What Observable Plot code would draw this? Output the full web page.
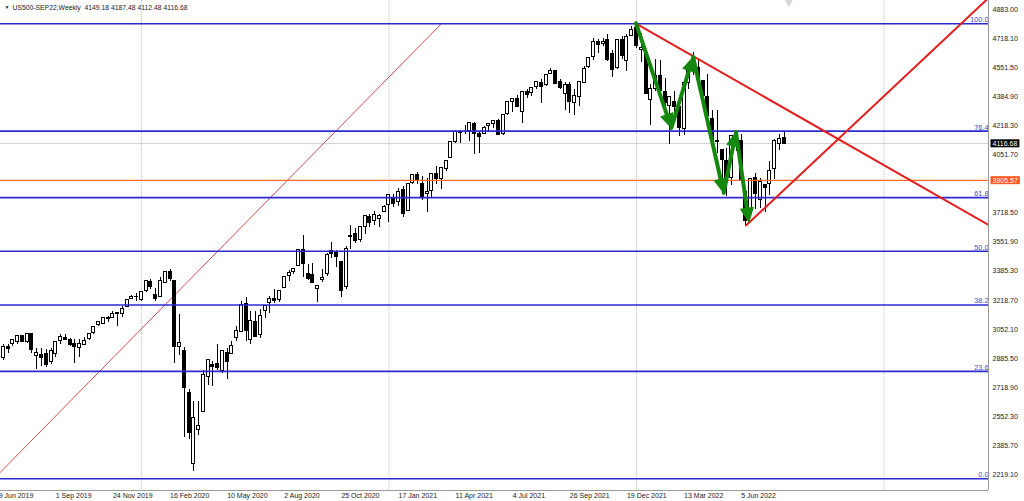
<!DOCTYPE html>
<html>
<head>
<meta charset="utf-8">
<script src="https://cdn.jsdelivr.net/npm/d3@7"></script>
<script src="https://cdn.jsdelivr.net/npm/@observablehq/plot@0.6"></script>
<style>
html, body { margin: 0; padding: 0; background: #fff; }
#chart svg { display: block; }
</style>
</head>
<body>
<div id="chart"></div>
<script>
// ---------- data ----------
const weeks = [
"2019-06-16","2019-06-23","2019-06-30","2019-07-07","2019-07-14","2019-07-21","2019-07-28","2019-08-04","2019-08-11","2019-08-18","2019-08-25","2019-09-01","2019-09-08","2019-09-15","2019-09-22","2019-09-29","2019-10-06","2019-10-13","2019-10-20","2019-10-27","2019-11-03","2019-11-10","2019-11-17","2019-11-24","2019-12-01","2019-12-08","2019-12-15","2019-12-22","2019-12-29",
"2020-01-05","2020-01-12","2020-01-19","2020-01-26","2020-02-02","2020-02-09","2020-02-16","2020-02-23","2020-03-01","2020-03-08","2020-03-15","2020-03-22","2020-03-29","2020-04-05","2020-04-12","2020-04-19","2020-04-26","2020-05-03","2020-05-10","2020-05-17","2020-05-24","2020-05-31","2020-06-07","2020-06-14","2020-06-21","2020-06-28","2020-07-05","2020-07-12","2020-07-19","2020-07-26","2020-08-02","2020-08-09","2020-08-16","2020-08-23","2020-08-30","2020-09-06","2020-09-13","2020-09-20","2020-09-27","2020-10-04","2020-10-11","2020-10-18","2020-10-25","2020-11-01","2020-11-08","2020-11-15","2020-11-22","2020-11-29","2020-12-06","2020-12-13","2020-12-20","2020-12-27",
"2021-01-03","2021-01-10","2021-01-17","2021-01-24","2021-01-31","2021-02-07","2021-02-14","2021-02-21","2021-02-28","2021-03-07","2021-03-14","2021-03-21","2021-03-28","2021-04-04","2021-04-11","2021-04-18","2021-04-25","2021-05-02","2021-05-09","2021-05-16","2021-05-23","2021-05-30","2021-06-06","2021-06-13","2021-06-20","2021-06-27","2021-07-04","2021-07-11","2021-07-18","2021-07-25","2021-08-01","2021-08-08","2021-08-15","2021-08-22","2021-08-29","2021-09-05","2021-09-12","2021-09-19","2021-09-26","2021-10-03","2021-10-10","2021-10-17","2021-10-24","2021-10-31","2021-11-07","2021-11-14","2021-11-21","2021-11-28","2021-12-05","2021-12-12","2021-12-19","2021-12-26",
"2022-01-02","2022-01-09","2022-01-16","2022-01-23","2022-01-30","2022-02-06","2022-02-13","2022-02-20","2022-02-27","2022-03-06","2022-03-13","2022-03-20","2022-03-27","2022-04-03","2022-04-10","2022-04-17","2022-04-24","2022-05-01","2022-05-08","2022-05-15","2022-05-22","2022-05-29","2022-06-05","2022-06-12","2022-06-19","2022-06-26","2022-07-03","2022-07-10","2022-07-17","2022-07-24","2022-07-31","2022-08-07"
];
const open = [
2886,2951,2971,2980,3017,2981,3024,2898,2907,2913,2866,2910,2988,3001,2991,2967,2944,2965,2996,3032,3079,3081,3118,3117,3143,3141,3183,3226,3240,
3218,3271,3321,3248,3235,3318,3380,3330,2950,2930,2690,2283,2478,2578,2782,2846,2854,2815,2915,2913,3004,3038,3199,2993,3094,3018,3155,3205,3224,3219,3288,3356,3380,3418,3507,3371,3364,3285,3334,3368,3500,3493,3441,3296,3583,3600,3566,3641,3694,3675,3684,3723,
3764,3803,3781,3851,3732,3892,3939,3886,3830,3844,3942,3916,3969,4034,4124,4179,4185,4191,4228,4169,4170,4216,4229,4248,4173,4284,4356,4372,4296,4410,4407,4438,4462,4450,4514,4535,4469,4402,4450,4348,4386,4463,4553,4610,4701,4689,4712,4628,4548,4710,4588,4733,
4778,4655,4632,4366,4431,4505,4412,4332,4354,4328,4202,4462,4541,4547,4474,4385,4255,4130,4081,4014,3919,4151,4134,3838,3715,3920,3792,3880,3883,3972,4113,4149.18
];
const high = [
2964,2964,2996,3013,3018,3028,3027,2944,2943,2939,2940,2985,3021,3022,3002,2993,2993,3003,3027,3066,3094,3121,3127,3154,3150,3182,3225,3248,3259,
3267,3329,3338,3285,3347,3385,3393,3335,3137,2950,2705,2637,2641,2818,2880,2869,2965,2934,2945,2981,3068,3211,3233,3155,3155,3165,3186,3240,3280,3272,3352,3387,3399,3509,3588,3425,3428,3299,3397,3485,3550,3502,3441,3529,3646,3629,3644,3699,3712,3726,3711,3760,
3826,3823,3861,3870,3887,3937,3950,3928,3915,3944,3983,3978,4020,4129,4191,4194,4218,4238,4236,4186,4213,4234,4249,4257,4286,4355,4372,4393,4415,4429,4440,4468,4481,4513,4546,4536,4486,4466,4465,4429,4475,4559,4608,4718,4714,4717,4743,4652,4713,4731,4740,4790,
4803,4748,4632,4453,4596,4590,4490,4362,4416,4329,4465,4546,4637,4593,4476,4513,4308,4307,4081,4090,4158,4178,4169,3838,3913,3946,3919,3880,4013,4140,4167,4187.48
];
const low = [
2873,2912,2952,2966,2975,2972,2914,2822,2840,2834,2853,2891,2966,2990,2952,2856,2892,2958,2987,3023,3066,3078,3091,3116,3070,3122,3182,3224,3212,
3214,3264,3280,3214,3235,3316,3328,2856,2901,2430,2420,2240,2447,2576,2728,2727,2816,2798,2766,2913,2985,3032,2984,2965,3004,3000,3115,3142,3200,3204,3284,3328,3369,3418,3349,3330,3313,3209,3323,3357,3459,3405,3234,3280,3511,3543,3552,3594,3633,3648,3636,3723,
3663,3749,3755,3694,3725,3885,3884,3789,3723,3805,3884,3853,3955,4034,4118,4118,4171,4128,4056,4061,4168,4180,4205,4164,4165,4279,4293,4321,4233,4372,4385,4424,4347,4441,4513,4458,4427,4306,4289,4279,4330,4459,4546,4595,4630,4672,4585,4495,4540,4600,4531,4733,
4662,4582,4395,4222,4414,4401,4327,4114,4279,4157,4162,4425,4506,4450,4381,4267,4124,4062,3859,3811,3875,4074,3900,3650,3705,3739,3743,3722,3818,3913,4079,4112.48
];
const close = [
2950,2942,2990,3014,2977,3026,2932,2919,2889,2847,2926,2979,3007,2992,2962,2952,2970,2986,3023,3067,3093,3120,3111,3141,3146,3169,3221,3240,3235,
3265,3329,3295,3226,3328,3380,3338,2954,2972,2717,2460,2547,2498,2790,2875,2837,2831,2930,2864,2955,3044,3194,3041,3098,3009,3130,3185,3225,3216,3271,3351,3373,3397,3508,3427,3341,3319,3298,3348,3477,3484,3465,3270,3510,3585,3558,3638,3699,3663,3709,3703,3756,
3824,3768,3841,3714,3887,3934,3907,3811,3842,3943,3913,3974,4019,4128,4185,4180,4181,4232,4174,4156,4204,4230,4247,4166,4281,4352,4370,4327,4412,4395,4437,4468,4441,4509,4535,4459,4433,4455,4357,4391,4471,4545,4605,4697,4682,4698,4595,4538,4712,4620,4725,4766,
4677,4662,4398,4432,4501,4419,4349,4385,4329,4204,4463,4543,4546,4488,4392,4272,4132,4123,4024,3901,4158,4109,3901,3675,3912,3825,3899,3863,3962,4130,4145,4116.68
];

// Fibonacci retracement levels
const fibLabels = ["0.0","23.6","38.2","50.0","61.8","76.4","100.0"];
const fibPrices = [2196, 2811.3, 3191.9, 3499.5, 3807.1, 4187.7, 4803];

// horizontal levels
const orangeLevel = 3905.57;
const lastPrice = 4116.68;

// trend lines (two anchor points each)
const thinTrendDates = ["2019-06-02","2021-03-21"];
const thinTrendPrices = [2196, 4803];
const downTrendDates = ["2022-01-02","2023-06-04"];
const downTrendPrices = [4803, 3650];
const upTrendDates = ["2022-06-12","2023-06-04"];
const upTrendPrices = [3647, 4952];

// green zig-zag arrows (vertices)
const zigDates = ["2022-01-02","2022-02-23","2022-03-27","2022-05-11","2022-05-29","2022-06-17"];
const zigPrices = [4803, 4203, 4610, 3831, 4180, 3664];

// chart-shift marker
const shiftMarkerDate = "2022-08-14";

// axes
const yTicks = [4883.00,4718.10,4551.50,4384.90,4218.30,4051.70,3718.50,3551.90,3385.30,3218.70,3052.10,2885.50,2718.90,2552.30,2385.70,2219.10];
const xTicks = ["2019-06-09","2019-09-01","2019-11-24","2020-02-16","2020-05-10","2020-08-02","2020-10-25","2021-01-17","2021-04-11","2021-07-04","2021-09-26","2021-12-19","2022-03-13","2022-06-05"];
const yearLines = ["2020-01-05","2021-01-03","2022-01-02","2023-01-01"];
const xDomain = ["2019-06-11T17:00:00Z","2023-06-03T15:36:00Z"];
const yDomain = [2129.1, 4936.3];

const titleText = "US500-SEP22,Weekly\u00a0\u00a04149.18 4187.48 4112.48 4116.68";

// ---------- build ----------
const DAY = 864e5;
const GREEN = "#14870f";
const candles = weeks.map((w, i) => ({date: new Date(w), o: open[i], h: high[i], l: low[i], c: close[i]}));
const mkLine = (ds, ps) => ds.map((d, i) => ({date: new Date(d), price: ps[i]}));
const thinTrend = mkLine(thinTrendDates, thinTrendPrices);
const downTrend = mkLine(downTrendDates, downTrendPrices);
const upTrend = mkLine(upTrendDates, upTrendPrices);
const zig = mkLine(zigDates, zigPrices);
const zigSegs = zig.slice(1).map((p, i) => ({x1: zig[i].date, y1: zig[i].price, x2: p.date, y2: p.price}));
const fibs = fibPrices.map((p, i) => ({price: p, label: fibLabels[i]}));
const tags = [{price: orangeLevel, color: "#ff5b1f"}, {price: lastPrice, color: "#000000"}];
const fmtX = d3.utcFormat("%-d %b %Y");
const halfW = 2.2 * DAY;

// arrows with filled heads, drawn through Plot's scales
function zigArrows(index, scales) {
  const g = d3.create("svg:g");
  for (const s of zigSegs) {
    const x1 = scales.x(s.x1), y1 = scales.y(s.y1), x2 = scales.x(s.x2), y2 = scales.y(s.y2);
    const a = Math.atan2(y2 - y1, x2 - x1);
    const L = 14, W = 6.5;
    const ca = Math.cos(a), sa = Math.sin(a);
    const bx = x2 - L * ca, by = y2 - L * sa;
    const ex = x2 - (L - 2) * ca, ey = y2 - (L - 2) * sa;
    g.append("line").attr("x1", x1).attr("y1", y1).attr("x2", ex).attr("y2", ey)
      .attr("stroke", GREEN).attr("stroke-width", 4).attr("stroke-linecap", "round");
    g.append("path")
      .attr("d", `M${x2},${y2}L${bx - sa * W},${by + ca * W}L${bx + sa * W},${by - ca * W}Z`)
      .attr("fill", GREEN).attr("stroke", GREEN).attr("stroke-width", 1).attr("stroke-linejoin", "round");
  }
  return g.node();
}

const chart = Plot.plot({
  width: 1024,
  height: 501,
  marginTop: 0,
  marginRight: 36,
  marginBottom: 11,
  marginLeft: 0,
  style: {fontFamily: "'Liberation Sans', Arial, sans-serif", fontSize: "7px", background: "#fff", color: "#222"},
  x: {type: "utc", domain: xDomain.map(d => new Date(d))},
  y: {domain: yDomain},
  marks: [
    Plot.ruleX(yearLines.map(d => new Date(d)), {stroke: "#c4c4c4", strokeDasharray: "1,1"}),
    Plot.ruleY([lastPrice], {stroke: "#d0d0d0"}),
    Plot.line(thinTrend, {x: "date", y: "price", stroke: "#d43838", strokeWidth: 0.9, clip: true}),
    // candles
    Plot.ruleX(candles, {x: "date", y1: "l", y2: "h", stroke: "#000", strokeWidth: 1, shapeRendering: "crispEdges"}),
    Plot.rect(candles, {
      x1: d => new Date(+d.date - halfW), x2: d => new Date(+d.date + halfW),
      y1: d => Math.min(d.o, d.c), y2: d => Math.max(d.o, d.c),
      fill: d => d.c >= d.o ? "#fff" : "#000", stroke: "#000", strokeWidth: 1, shapeRendering: "crispEdges"
    }),
    // levels
    Plot.ruleY(fibPrices, {stroke: "#2b2bd0", strokeWidth: 1.6}),
    Plot.ruleY([orangeLevel], {stroke: "#ff6a2c", strokeWidth: 1.3}),
    Plot.text(fibs, {y: "price", text: "label", frameAnchor: "right", textAnchor: "end", dy: -4, fontSize: 7.3, fill: "#4545cc"}),
    // trend lines
    Plot.line(downTrend, {x: "date", y: "price", stroke: "#e21e1e", strokeWidth: 2, clip: true}),
    Plot.line(upTrend, {x: "date", y: "price", stroke: "#e21e1e", strokeWidth: 2, clip: true}),
    zigArrows,
    // frame borders
    Plot.ruleY([yDomain[0]], {stroke: "#9a9a9a"}),
    Plot.ruleX([new Date(xDomain[1])], {stroke: "#9a9a9a"}),
    // shift marker
    Plot.dot([new Date(shiftMarkerDate)], {x: d => d, frameAnchor: "top", symbol: "diamond", r: 4, fill: "#d6d6d6"}),
    // axes
    Plot.axisY({anchor: "right", ticks: yTicks, tickSize: 0, tickPadding: 4, tickFormat: d => d.toFixed(2), label: null, fill: "#222"}),
    Plot.axisX({anchor: "bottom", ticks: xTicks.map(d => new Date(d)), tickSize: 0, tickPadding: 3, tickFormat: fmtX, textAnchor: "start", label: null, fill: "#222"}),
    // price tags
    Plot.text(tags, {y: "price", text: d => d.price.toFixed(2), frameAnchor: "right", textAnchor: "start", dx: 4, fill: "#fff"}),
    // title
    Plot.text(["\u25BC"], {frameAnchor: "top-left", dx: 4, dy: 5, fontSize: 5, fill: "#222"}),
    Plot.text([titleText], {frameAnchor: "top-left", dx: 12, dy: 5, textAnchor: "start", fontSize: 6.8, fill: "#222"})
  ]
});
document.getElementById("chart").append(chart);

// coloured boxes behind the price tags
const tagColor = {};
tags.forEach(t => tagColor[t.price.toFixed(2)] = t.color);
d3.select(chart).selectAll("text").each(function() {
  const t = this.textContent;
  if (tagColor[t] && this.getAttribute("fill") !== "#222") {
    const b = this.getBBox();
    const r = document.createElementNS("http://www.w3.org/2000/svg", "rect");
    r.setAttribute("x", b.x - 2);
    r.setAttribute("y", b.y - 0.5);
    r.setAttribute("width", b.width + 4);
    r.setAttribute("height", b.height + 1);
    r.setAttribute("fill", tagColor[t]);
    const tr = this.getAttribute("transform");
    if (tr) r.setAttribute("transform", tr);
    this.parentNode.insertBefore(r, this);
  }
});
</script>
</body>
</html>
